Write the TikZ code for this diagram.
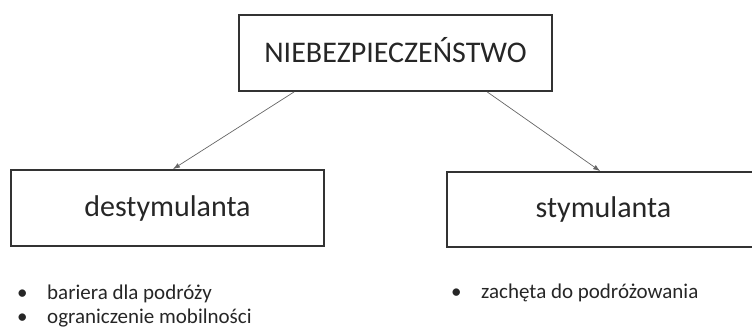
\documentclass[tikz,border=0pt]{standalone}
\usepackage{fontspec}
\setmainfont{Carlito}
\usepackage{tikz}
\usetikzlibrary{arrows.meta}
\tikzstyle{cat_box}=[draw=black!80, line width=1.8pt, minimum width=313pt, minimum height=76pt, inner sep=0pt, text=black!85]
\tikzstyle{cat_link}=[draw=black!60, line width=0.7pt, -{Latex[length=7pt,width=5pt]}]
\tikzstyle{cat_item}=[anchor=base west, inner sep=0pt, text=black!85, font=\fontsize{21}{25}\selectfont]
\newcommand{\bul}{\makebox[30pt][l]{\textbullet}}

\begin{document}
\begin{tikzpicture}[x=1pt, y=-1pt]
          \useasboundingbox (0,0) rectangle (752,329);
          \node[cat_box, font=\fontsize{30}{35}\selectfont, text height=19pt, text depth=0pt] (danger) at (395.5,53){NIEBEZPIECZEŃSTWO};
          \node[cat_box, font=\fontsize{30}{35}\selectfont] (destim) at (167.5,208){destymulanta};
          \node[cat_box, font=\fontsize{30}{35}\selectfont, minimum height=75pt] (stim) at (603.5,209.5){stymulanta};
          \draw[cat_link](danger.201.7) -- (destim.82);
          \draw[cat_link](danger.-23.7) -- (stim.95);
          \node[cat_item] (destim1) at (17,299){\bul bariera dla podróży};
          \node[cat_item] (destim2) at (17,323){\bul ograniczenie mobilności};
          \node[cat_item] (stim1) at (451,298){\bul zachęta do podróżowania};
        \end{tikzpicture}
\end{document}
